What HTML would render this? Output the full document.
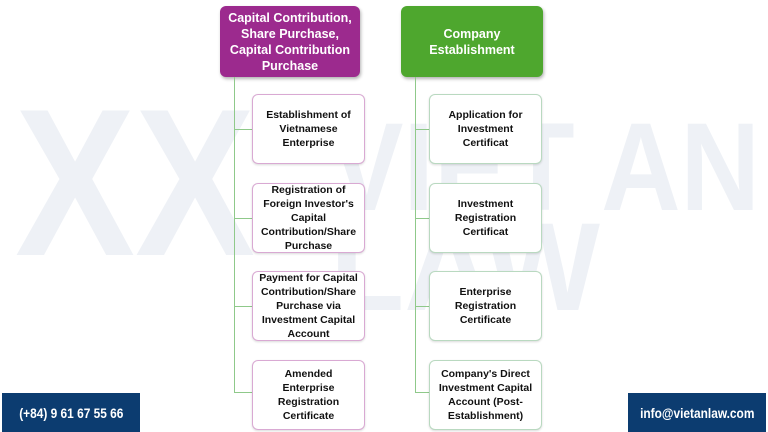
<!DOCTYPE html>
<html><head><meta charset="utf-8"><style>
body{margin:0;width:768px;height:432px;background:#fff;position:relative;overflow:hidden;font-family:"Liberation Sans",sans-serif;}
svg.wm{position:absolute;left:0;top:0}
.hd{position:absolute;border-radius:6px;color:#fff;font-weight:bold;font-size:12.5px;line-height:16px;text-align:center;display:flex;align-items:center;justify-content:center;box-shadow:1px 2px 3px rgba(0,0,0,.3);}
.bx{position:absolute;width:113px;height:70px;background:#fff;border-radius:6px;font-weight:bold;font-size:10.5px;line-height:14px;text-align:center;display:flex;align-items:center;justify-content:center;color:#111;box-sizing:border-box;box-shadow:0 1px 2px rgba(0,0,0,.15);}
.l{border:1px solid #d9a9d3;left:252px}
.r{border:1px solid #b9d9c0;left:429px}
.v{position:absolute;width:1px;background:#8fc98a}
.h{position:absolute;height:1px;background:#8fc98a}
.bn{position:absolute;top:393px;height:39px;width:138px;background:#0c3c70;color:#fff;font-weight:bold;font-size:14px;display:flex;align-items:center;justify-content:center;}
.bn span{display:inline-block;transform:scaleX(.85)}
</style></head><body>
<svg class="wm" width="768" height="432" font-family="Liberation Sans" font-weight="bold" fill="#eef1f6">
<text x="15" y="255" font-size="210" textLength="240" lengthAdjust="spacingAndGlyphs">XX</text>
<text x="330" y="210" font-size="125" textLength="430" lengthAdjust="spacingAndGlyphs">VIET AN</text>
<text x="330" y="310" font-size="125" textLength="270" lengthAdjust="spacingAndGlyphs">LAW</text>
</svg>
<div class="hd" style="left:220px;top:6px;width:140px;height:71px;background:#9c2a8e">Capital Contribution,<br>Share Purchase,<br>Capital Contribution<br>Purchase</div>
<div class="hd" style="left:401px;top:6px;width:142px;height:71px;background:#4ea72e">Company<br>Establishment</div>
<div class="v" style="left:234px;top:77px;height:315px"></div>
<div class="v" style="left:415px;top:77px;height:315px"></div>
<div class="h" style="left:234px;top:129px;width:18px"></div>
<div class="h" style="left:234px;top:218px;width:18px"></div>
<div class="h" style="left:234px;top:306px;width:18px"></div>
<div class="h" style="left:234px;top:392px;width:18px"></div>
<div class="h" style="left:415px;top:129px;width:14px"></div>
<div class="h" style="left:415px;top:218px;width:14px"></div>
<div class="h" style="left:415px;top:306px;width:14px"></div>
<div class="h" style="left:415px;top:392px;width:14px"></div>
<div class="bx l" style="top:94px">Establishment of<br>Vietnamese<br>Enterprise</div>
<div class="bx l" style="top:183px">Registration of<br>Foreign Investor's<br>Capital<br>Contribution/Share<br>Purchase</div>
<div class="bx l" style="top:271px">Payment for Capital<br>Contribution/Share<br>Purchase via<br>Investment Capital<br>Account</div>
<div class="bx l" style="top:360px">Amended<br>Enterprise<br>Registration<br>Certificate</div>
<div class="bx r" style="top:94px">Application for<br>Investment<br>Certificat</div>
<div class="bx r" style="top:183px">Investment<br>Registration<br>Certificat</div>
<div class="bx r" style="top:271px">Enterprise<br>Registration<br>Certificate</div>
<div class="bx r" style="top:360px">Company's Direct<br>Investment Capital<br>Account (Post-<br>Establishment)</div>
<div class="bn" style="left:2px"><span>(+84) 9 61 67 55 66</span></div>
<div class="bn" style="left:628px"><span>info@vietanlaw.com</span></div>
</body></html>
